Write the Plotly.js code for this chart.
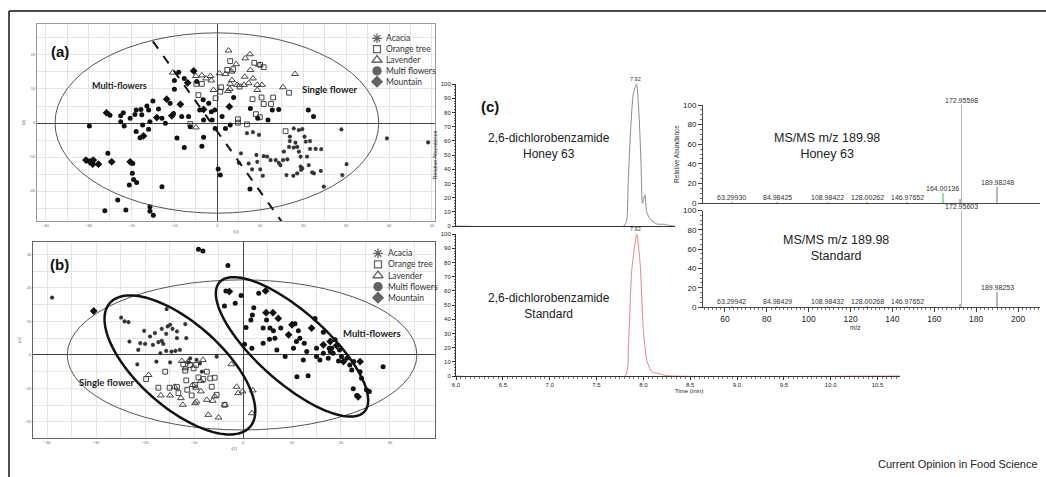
<!DOCTYPE html>
<html><head><meta charset="utf-8">
<script src="https://cdn.plot.ly/plotly-3.0.1.min.js"></script>
<style>html,body{margin:0;padding:0;background:#fff}#chart{width:1046px;height:477px}</style>
</head><body><div id="chart"></div>
<script>
// ---------------- DATA ----------------
const legendNames = ['Acacia', 'Orange tree', 'Lavender', 'Multi flowers', 'Mountain'];

// Panel (a) scores t[1], t[2]
const aAcaciaX = [6.9,8.3,9.7,9.1,10.8,11.6,9.3,7.3,8.1,10.0,10.6,5.0,5.5,13.6,15.3,16.3,14.3,14.7,16.9,17.8,19.0,19.8,16.9,18.2,17.8,18.6,19.0,19.4,20.3,20.6,21.6,21.6,20.9,22.9,24.2,19.4,19.5,21.3,22.1,22.5,24.1,16.1,17.7,18.6,19.8,24.8,29.1,30.1,28.9,39.5,49.1,16.7,15.5,12.4];
const aAcaciaY = [-3.0,-2.7,-3.5,-9.4,-9.7,-9.9,-11.4,-11.9,-13.6,-13.6,-15.5,-11.7,-8.9,-10.9,-10.9,-10.7,-11.7,-12.4,-4.0,-1.6,-2.1,-1.8,-5.3,-5.8,-7.2,-7.0,-8.4,-9.9,-4.0,-5.5,-5.3,-7.6,-9.9,-7.6,-7.7,-12.8,-13.8,-12.4,-14.5,-14.8,-14.1,-15.3,-15.5,-14.8,-13.3,-18.7,-15.3,-12.1,-1.9,-4.5,-5.7,-7.0,-8.4,-10.9];
const aOrangeX = [3.0,2.3,3.7,8.6,10.0,10.8,-4.9,-3.6,0.7,-0.4,5.2,8.2,10.3,13.0,10.8,12.5,16.7,9.0,9.9,4.8,4.8,6.9,-6.3,15.9,-4.4,0.9];
const aOrangeY = [18.2,15.6,15.8,17.7,17.1,16.4,11.5,11.5,9.2,7.3,10.7,7.0,7.5,7.5,5.6,5.6,8.9,2.6,1.7,1.1,0.1,-0.4,-0.3,-2.4,8.2,10.5];
const aLavenderX = [2.6,4.4,6.5,7.6,7.7,9.7,-10.4,-5.0,-3.6,-2.6,-1.6,-1.4,0.5,1.9,3.3,6.4,3.4,3.0,2.9,4.6,6.2,7.3,8.3,9.3,10.4,9.3,-0.9,2.5,15.3,18.1,-5.0];
const aLavenderY = [21.3,17.3,19.0,20.2,15.6,17.1,14.8,13.8,14.0,13.1,13.8,12.5,14.6,14.4,15.1,13.6,12.6,11.5,10.0,11.2,11.2,11.7,13.1,11.2,11.2,9.7,9.7,9.4,10.5,14.4,-1.3];
const aMultiX = [-25.0,-22.5,-21.9,-22.5,-21.7,-20.3,-18.9,-19.2,-17.8,-17.6,-17.4,-16.4,-16.0,-15.7,-15.0,-13.7,-12.9,-12.1,-11.0,-10.2,-8.3,-6.7,-6.3,-4.1,-3.3,-3.2,-2.0,-1.4,-1.2,-0.5,1.1,1.9,3.0,3.8,7.7,9.4,11.8,12.8,14.3,21.2,22.4,-10.0,-10.0,-7.7,-4.8,-9.0,-0.6,-9.4,-7.7,-3.6,0.2,0.7,7.6,-19.7,-19.8,-19.5,-18.8,-20.5,-26.2,-23.2,-21.3,-15.7,-15.7,-14.9,-12.9,-18.9,-18.0,-16.0,-29.8,-25.5,-3.2];
const aMultiY = [2.3,2.1,3.0,0.4,-0.9,1.4,3.8,2.5,4.0,2.4,-0.6,5.0,3.8,0.4,6.5,4.1,1.4,-0.1,5.8,2.8,1.9,1.9,-1.1,3.8,6.8,0.9,5.8,3.3,0.9,-1.6,1.9,-1.6,-0.6,7.5,4.3,1.4,0.9,3.8,4.0,3.8,1.9,12.5,9.9,13.1,12.2,14.9,3.8,-4.4,-7.2,-6.8,-13.5,-15.3,-19.4,-11.9,-14.8,-16.6,-17.5,-18.2,-25.8,-22.6,-25.6,-24.6,-25.9,-27.1,-18.7,-2.5,-4.3,-1.8,-0.9,-8.9,-4.2];
const aMountainX = [-30.6,-29.7,-28.9,-27.7,-29.0,-24.6,-20.3,-25.8,-5.5,-3.2,-11.8,-14.1,-10.6,2.8,-17.2,-8.6,-6.9];
const aMountainY = [-10.9,-11.4,-10.9,-12.1,-12.1,-11.4,-11.4,3.0,15.3,4.0,7.0,1.6,2.1,4.8,-3.8,5.5,11.8];

// Panel (b) scores
const bAcaciaX = [-24.9,-24.2,-23.4,-15.6,-23.2,-21.4,-20.2,-20.0,-19.0,-18.0,-18.4,-17.3,-16.6,-16.3,-15.7,-15.4,-14.9,-14.4,-13.5,-13.5,-14.6,-13.8,-12.9,-11.8,-11.6,-15.7,-21.6,-17.7,-14.9,-11.2,-9.5,-8.8,-8.4,-5.4,-16.6,-21.0,-16.9,-10.8,-39.0];
const bAcaciaY = [11.1,10.0,9.8,13.7,4.0,1.5,7.2,3.3,5.5,6.5,3.0,3.8,4.2,3.3,6.3,8.5,9.0,7.8,7.0,5.0,1.0,1.2,1.5,9.2,5.0,1.2,-2.8,-2.0,-2.2,-2.2,-1.5,-2.5,-5.0,-0.5,7.8,3.5,0.5,-1.0,17.1];
const bOrangeX = [-19.8,-17.3,-15.9,-15.0,-13.5,-13.2,-11.8,-11.6,-11.4,-10.5,-9.8,-9.1,-8.1,-7.4,-6.7,-6.4,-5.8,-5.4,-3.8,-10.8,-10.1,-9.6,-12.2];
const bOrangeY = [-7.2,-9.8,-5.0,-9.8,-9.6,-11.4,-4.7,-7.6,-10.4,-12.1,-9.0,-6.7,-7.2,-5.0,-7.0,-9.5,-6.8,-11.9,-14.9,-3.0,-4.0,-3.0,-2.8];
const bLavenderX = [-19.3,-16.8,-14.9,-14.0,-12.7,-12.3,-11.2,-11.8,-9.8,-9.5,-9.6,-8.6,-8.6,-7.4,-6.2,-5.8,-7.1,-5.0,-2.4,-1.3,-1.0,-0.1,2.0,1.8,-3.7,-12.5,-8.2,-10.3];
const bLavenderY = [-6.0,-12.1,-12.1,-9.5,-12.9,-14.9,-2.0,-4.0,-14.4,-13.9,-9.8,-10.9,-7.8,-13.4,-13.7,-12.4,-17.9,-18.7,-2.8,-9.5,-11.4,-10.9,-10.6,-17.4,-14.9,-1.8,-1.5,-9.0];
const bMultiX = [-9.1,-8.2,-3.1,-3.5,-0.4,-1.6,-3.8,3.2,2.2,1.9,1.6,0.6,0.3,1.8,4.8,4.1,5.5,6.2,7.7,6.5,4.1,5.4,6.9,8.6,10.6,11.3,11.6,10.9,10.3,12.5,13.0,12.3,14.7,15.0,16.4,15.0,15.7,16.4,18.1,18.4,17.4,18.8,19.7,20.1,19.5,21.2,21.8,22.6,22.2,23.9,24.2,22.5,23.2,25.2,25.8,28.6,11.0,13.3,17.6,17.8];
const bMultiY = [31.5,31.0,26.7,19.1,17.7,15.4,14.6,18.4,14.1,11.9,10.4,8.2,3.2,2.0,10.4,8.0,8.0,7.2,8.0,5.0,3.5,4.7,1.5,-0.5,9.3,7.2,5.0,4.0,2.0,3.5,1.0,-1.5,10.9,2.0,6.8,-0.5,-1.5,0.5,2.0,0.5,-1.0,4.5,1.5,-0.5,-1.8,-1.0,-3.0,-2.0,-4.5,-5.0,-7.0,-10.1,-12.1,-10.4,-10.9,-3.5,-6.5,-6.2,2.0,1.0];
const bMountainX = [-2.8,4.6,4.7,6.1,7.2,9.3,10.0,14.0,17.8,19.1,20.5,23.9,23.5,16.4,-30.5];
const bMountainY = [18.9,19.1,12.6,12.6,10.9,6.0,9.0,8.0,4.0,2.8,-2.0,-2.0,-12.5,3.0,13.1];

// Panel (c) chromatograms (time, relative abundance)
const chromHoneyTime = [6.0,7.795,7.824,7.841,7.866,7.894,7.930,7.958,7.977,7.991,8.001,8.019,8.037,8.073,8.144,8.233,8.27,8.32,8.34];
const chromHoneyAbund = [0,0,4,32,68,93,100,75,44,16,18,22,10,5,1.4,1.2,0.5,0,0];
const chromStdTime = [6.0,7.806,7.84,7.877,7.93,7.966,8.0,8.037,8.09,8.18,8.25,10.74];
const chromStdAbund = [0,0,21,75,100,79,32,11,3,1.5,0.2,0];
const peakRT = 7.92;

// Panel (c) MS/MS spectra
const msHoneyMz  = [63.2993,84.98425,108.98422,128.00262,146.97652,164.00136,172.15,172.95598,189.98248];
const msHoneyInt = [0.6,0.6,0.6,0.6,0.6,10,4.5,100,16];
const msHoneyLabel = [true,true,true,true,true,true,false,true,true];
const msStdMz  = [63.29942,84.98429,108.98432,128.00268,146.97652,172.15,172.95603,189.98253];
const msStdInt = [0.6,0.6,0.6,0.6,0.6,3.5,100,16];
const msStdLabel = [true,true,true,true,true,false,true,true];

// ---------------- LAYOUT HELPERS ----------------
const W = 1046, H = 477;
const px = x => x / W, py = y => 1 - y / H;
const FONT = 'Liberation Sans, Arial, sans-serif';
const CAL = 'Lato, Carlito, sans-serif';

function pcaAxis(dom, range, anchor, lineColor, title) {
  return {
    domain: dom, range: range, anchor: anchor, dtick: 10, tick0: 0,
    showgrid: true, gridcolor: '#e4e4e4', gridwidth: 1,
    minor: {dtick: 5, showgrid: true, gridcolor: '#e4e4e4', gridwidth: 1},
    zeroline: true, zerolinecolor: '#444', zerolinewidth: 1,
    showline: true, mirror: true, linecolor: lineColor, linewidth: 1,
    ticks: '', tickfont: {size: 4, color: '#666'},
    title: {text: title, font: {size: 4, color: '#666'}, standoff: 3},
    fixedrange: true
  };
}

const traces = [];
function pcaTraces(xa, ya, sets) {
  const styles = [
    {symbol: 'asterisk-open', size: 3.5, color: '#333', line: {width: 1.1, color: '#333'}},
    {symbol: 'square-open', size: 4.8, color: '#333', line: {width: 0.9, color: '#333'}},
    {symbol: 'triangle-up-open', size: 6, color: '#333', line: {width: 0.9, color: '#333'}},
    {symbol: 'circle', size: 5, color: '#111', line: {width: 0}},
    {symbol: 'diamond', size: 6, color: '#111', line: {width: 0}}
  ];
  sets.forEach((s, i) => {
    traces.push({type: 'scatter', mode: 'markers', x: s[0], y: s[1], xaxis: xa, yaxis: ya,
      name: legendNames[i], marker: styles[i], showlegend: false, hoverinfo: 'skip'});
  });
}
pcaTraces('x', 'y', [[aAcaciaX, aAcaciaY], [aOrangeX, aOrangeY], [aLavenderX, aLavenderY], [aMultiX, aMultiY], [aMountainX, aMountainY]]);
pcaTraces('x2', 'y2', [[bAcaciaX, bAcaciaY], [bOrangeX, bOrangeY], [bLavenderX, bLavenderY], [bMultiX, bMultiY], [bMountainX, bMountainY]]);

// chromatograms
traces.push({type: 'scatter', mode: 'lines', x: chromHoneyTime, y: chromHoneyAbund, xaxis: 'x3', yaxis: 'y3',
  line: {color: '#8a8a8a', width: 1, shape: 'spline', smoothing: 0.5}, showlegend: false, hoverinfo: 'skip'});
traces.push({type: 'scatter', mode: 'lines', x: chromStdTime, y: chromStdAbund, xaxis: 'x4', yaxis: 'y4',
  line: {color: '#e98585', width: 1, shape: 'spline', smoothing: 0.5}, showlegend: false, hoverinfo: 'skip'});

// MS stick spectra
function stickColors(mz, base) { return mz.map(m => Math.abs(m - 164.00136) < 0.01 ? '#9fdc9f' : base); }
traces.push({type: 'bar', x: msHoneyMz, y: msHoneyInt, xaxis: 'x5', yaxis: 'y5', width: 0.8,
  marker: {color: stickColors(msHoneyMz, '#b8b8b8'), line: {width: 0}}, showlegend: false, hoverinfo: 'skip'});
traces.push({type: 'bar', x: msStdMz, y: msStdInt, xaxis: 'x6', yaxis: 'y6', width: 0.8,
  marker: {color: stickColors(msStdMz, '#b8b8b8'), line: {width: 0}}, showlegend: false, hoverinfo: 'skip'});

// legend symbols drawn on a pixel overlay axis
const legendRowsA = [38.3, 49.1, 60.0, 70.9, 81.7];
const legendRowsB = [253.3, 264.3, 275.5, 286.6, 297.7];
const legSym = ['asterisk-open', 'square-open', 'triangle-up-open', 'circle', 'diamond'];
const legSize = [8, 7, 9, 8, 8];
[[377, legendRowsA], [378, legendRowsB]].forEach(([lx, rows]) => {
  traces.push({type: 'scatter', mode: 'markers', x: rows.map(() => lx), y: rows, xaxis: 'x7', yaxis: 'y7',
    marker: {symbol: legSym, size: legSize, color: '#222', line: {width: 1.3, color: '#222'}},
    showlegend: false, hoverinfo: 'skip'});
});

// ---------------- SHAPES ----------------
function ellipsePath(cx, cy, ux, uy, vx, vy) {
  let d = '';
  for (let i = 0; i <= 120; i++) {
    const t = 2 * Math.PI * i / 120;
    const x = cx + ux * Math.cos(t) + vx * Math.sin(t);
    const y = cy + uy * Math.cos(t) + vy * Math.sin(t);
    d += (i ? 'L' : 'M') + x.toFixed(3) + ',' + y.toFixed(3);
  }
  return d + 'Z';
}
const shapes = [
  // outer figure frame
  {type: 'line', xref: 'paper', yref: 'paper', x0: px(9), x1: px(1050), y0: py(11), y1: py(11), line: {color: '#111', width: 1.5}},
  {type: 'line', xref: 'paper', yref: 'paper', x0: px(9), x1: px(9), y0: py(11), y1: py(480), line: {color: '#111', width: 1.5}},
  // (a) Hotelling ellipse and separation line
  {type: 'circle', xref: 'x', yref: 'y', x0: -37.8, x1: 37.6, y0: -26.5, y1: 26.5, line: {color: '#555', width: 1}},
  {type: 'line', xref: 'x', yref: 'y', x0: -15, y0: 24, x1: 15, y1: -29, line: {color: '#111', width: 2, dash: 'dash'}},
  // (b) Hotelling ellipse and group ellipses
  {type: 'circle', xref: 'x2', yref: 'y2', x0: -35.9, x1: 35.5, y0: -22.4, y1: 22.4, line: {color: '#555', width: 1}},
  {type: 'path', xref: 'x2', yref: 'y2', path: ellipsePath(-12.9, -3.0, 14.3, -18.5, 5.7, 9.4), line: {color: '#111', width: 2.5}},
  {type: 'path', xref: 'x2', yref: 'y2', path: ellipsePath(10.0, 2.4, 14.8, -19.3, 4.8, 7.8), line: {color: '#111', width: 2.5}}
];

// ---------------- ANNOTATIONS ----------------
function pTxt(x, y, text, size, opts) {
  return Object.assign({xref: 'paper', yref: 'paper', x: px(x), y: py(y), text: text, showarrow: false,
    xanchor: 'center', yanchor: 'middle', font: {size: size, color: '#222', family: FONT}}, opts || {});
}
const ann = [
  pTxt(60, 51.5, '<b>(a)</b>', 15, {font: {size: 15, color: '#111', family: FONT}}),
  pTxt(59, 264, '<b>(b)</b>', 15, {font: {size: 15, color: '#111', family: FONT}}),
  pTxt(490, 106, '<b>(c)</b>', 15, {font: {size: 15, color: '#111', family: FONT}}),
  pTxt(119, 85, '<b>Multi-flowers</b>', 9, {font: {size: 9, color: '#222', family: CAL}}),
  pTxt(330, 89, '<b>Single flower</b>', 9.5, {font: {size: 9.5, color: '#222', family: CAL}}),
  pTxt(106.5, 382, '<b>Single flower</b>', 9.5, {font: {size: 9.5, color: '#222', family: CAL}}),
  pTxt(372, 333, '<b>Multi-flowers</b>', 9.5, {font: {size: 9.5, color: '#222', family: CAL}}),
  pTxt(548.7, 146, '2,6-dichlorobenzamide<br>Honey 63', 12),
  pTxt(548.7, 305.5, '2,6-dichlorobenzamide<br>Standard', 12),
  pTxt(826.7, 146, 'MS/MS m/z 189.98<br>Honey 63', 12.5),
  pTxt(835.7, 248, 'MS/MS m/z 189.98<br>Standard', 12.5),
  pTxt(689, 391, 'Time (min)', 6, {font: {size: 6, color: '#222', family: FONT}}),
  pTxt(855, 327, 'm/z', 6.5, {font: {size: 6.5, color: '#222', family: FONT}}),
  pTxt(1040, 464, 'Current Opinion in Food Science', 11, {xanchor: 'right'})
];
// legend texts
[[384, legendRowsA], [386, legendRowsB]].forEach(([lx, rows]) => {
  rows.forEach((ry, i) => ann.push(pTxt(lx, ry, legendNames[i], 8.5,
    {xanchor: 'left', font: {size: 8.5, color: '#333', family: CAL}})));
});
// chromatogram peak labels
ann.push({xref: 'x3', yref: 'y3', x: peakRT, y: 100, text: peakRT.toFixed(2), showarrow: false, yanchor: 'bottom',
  font: {size: 5.5, color: '#333', family: FONT}});
ann.push({xref: 'x4', yref: 'y4', x: peakRT, y: 100, text: peakRT.toFixed(2), showarrow: false, yanchor: 'bottom',
  font: {size: 5.5, color: '#333', family: FONT}});
// MS peak labels
function msLabels(mz, inten, flags, xr, yr) {
  mz.forEach((m, i) => {
    if (!flags[i]) return;
    ann.push({xref: xr, yref: yr, x: m, y: inten[i], text: m.toFixed(5), showarrow: false,
      yanchor: 'bottom', yshift: -1, font: {size: 7, color: '#333', family: FONT}});
  });
}
msLabels(msHoneyMz, msHoneyInt, msHoneyLabel, 'x5', 'y5');
msLabels(msStdMz, msStdInt, msStdLabel, 'x6', 'y6');

// ---------------- LAYOUT ----------------
const chromY = (dom, withTitle) => ({
  domain: dom, range: [0, 100], anchor: withTitle[0], dtick: 10, showgrid: false, zeroline: false,
  showline: true, linecolor: '#333', linewidth: 1, ticks: 'outside', ticklen: 3, tickcolor: '#333',
  minor: {ticks: 'outside', ticklen: 1.5, dtick: 2, tickcolor: '#666'},
  tickfont: {size: 6, color: '#222'}, fixedrange: true,
  title: {text: withTitle[1], font: {size: 5.5, color: '#333'}, standoff: 2}
});
const msY = (dom, anchor, title, shift) => ({
  domain: dom, range: [0, 100], anchor: anchor, dtick: 20, showgrid: false, zeroline: false,
  showline: true, linecolor: '#444', linewidth: 1, ticks: 'outside', ticklen: 4, tickcolor: '#444',
  minor: {ticks: 'outside', ticklen: 2, dtick: 5, tickcolor: '#777'},
  tickfont: {size: 8, color: '#222'}, ticklabelshift: shift, fixedrange: true,
  title: {text: title, font: {size: 6.5, color: '#333'}, standoff: 2}
});

const layout = {
  width: W, height: H, autosize: false,
  margin: {l: 0, r: 0, t: 0, b: 0, pad: 0},
  paper_bgcolor: '#fff', plot_bgcolor: 'rgba(0,0,0,0)',
  font: {family: FONT, color: '#222'},
  showlegend: false, bargap: 0,
  xaxis: pcaAxis([px(37), px(435)], [-42, 50.7], 'y', '#999', 't[1]'),
  yaxis: pcaAxis([py(221), py(24)], [-28.8, 29.1], 'x', '#999', 't[2]'),
  xaxis2: pcaAxis([px(33), px(435)], [-42.9, 39.2], 'y2', '#666', 't[1]'),
  yaxis2: pcaAxis([py(438), py(242)], [-24.8, 33.7], 'x2', '#666', 't[2]'),
  xaxis3: {domain: [px(456), px(675)], range: [6.0, 8.34], anchor: 'y3', showgrid: false, zeroline: false,
    showline: true, linecolor: '#333', linewidth: 1, ticks: '', showticklabels: false, fixedrange: true},
  yaxis3: chromY([py(226), py(84)], ['x3', 'Relative Abundance']),
  xaxis4: {domain: [px(456), px(900)], range: [6.0, 10.74], anchor: 'y4', dtick: 0.5, tick0: 6, tickformat: '.1f',
    showgrid: false, zeroline: false, showline: true, linecolor: '#333', linewidth: 1,
    ticks: 'outside', ticklen: 3, tickcolor: '#333', minor: {ticks: 'outside', ticklen: 1.5, dtick: 0.05, tickcolor: '#777'},
    tickfont: {size: 6, color: '#222'}, fixedrange: true},
  yaxis4: chromY([py(376), py(234)], ['x4', '']),
  xaxis5: {domain: [px(703), px(1040)], range: [49.5, 210.5], anchor: 'y5', showgrid: false, zeroline: false,
    showline: true, linecolor: '#444', linewidth: 1, ticks: '', showticklabels: false, fixedrange: true},
  yaxis5: msY([py(203), py(105)], 'x5', 'Relative Abundance', 1.5),
  xaxis6: {domain: [px(703), px(1040)], range: [49.5, 210.5], anchor: 'y6', dtick: 20, tick0: 0,
    showgrid: false, zeroline: false, showline: true, linecolor: '#444', linewidth: 1,
    ticks: 'outside', ticklen: 4, tickcolor: '#444', minor: {ticks: 'outside', ticklen: 2, dtick: 2, tickcolor: '#777'},
    tickfont: {size: 8.5, color: '#222'}, fixedrange: true},
  yaxis6: msY([py(307), py(210.5)], 'x6', '', -1.5),
  xaxis7: {domain: [0, 1], range: [0, W], anchor: 'y7', visible: false, fixedrange: true},
  yaxis7: {domain: [0, 1], range: [H, 0], anchor: 'x7', visible: false, fixedrange: true},
  shapes: shapes,
  annotations: ann
};

Plotly.newPlot('chart', traces, layout, {staticPlot: true, displayModeBar: false});
</script></body></html>
